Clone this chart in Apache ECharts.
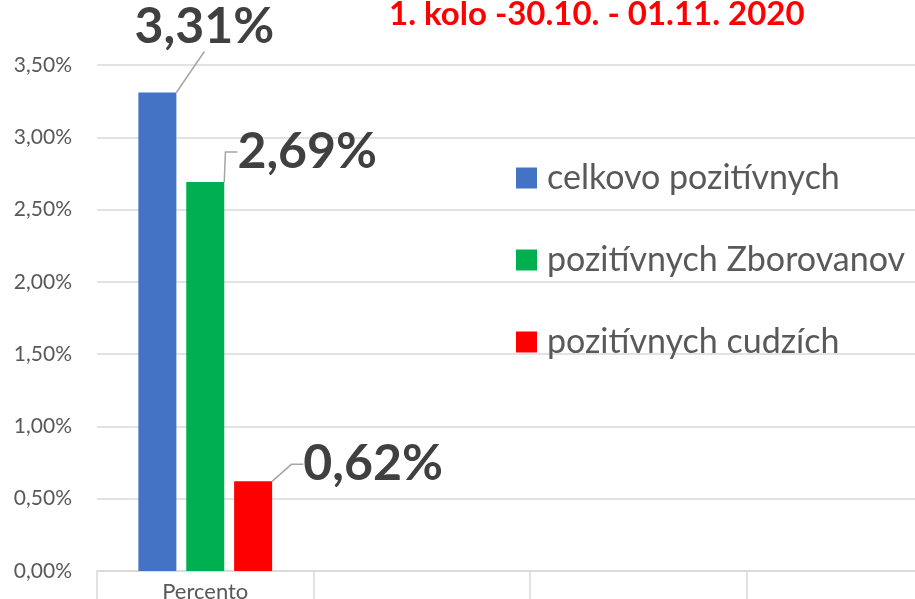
<!DOCTYPE html>
<html>
<head>
<meta charset="utf-8">
<script src="https://cdn.jsdelivr.net/npm/echarts@6/dist/echarts.min.js"></script>
<style>
  html, body { margin: 0; padding: 0; background: #fff; }
  #chart { width: 915px; height: 599px; }
</style>
</head>
<body>
<div id="chart"></div>
<script>
var categories = ['Percento', '', '', ''];
var seriesNames = ['celkovo pozitívnych', 'pozitívnych Zborovanov', 'pozitívnych cudzích'];
var seriesColors = ['#4472c4', '#00b050', '#ff0000'];
var celkovo = [3.31, null, null, null];
var zborovanov = [2.69, null, null, null];
var cudzich = [0.62, null, null, null];
var yTicks = [0, 0.5, 1, 1.5, 2, 2.5, 3, 3.5];

var chart = echarts.init(document.getElementById('chart'));
var font = 'Lato, "Open Sans", sans-serif';

function pct(v) {
  return v.toFixed(2).replace('.', ',') + '%';
}

// posuny stitkov oproti pozicii 'top'
var labelShift = [[47, -36], [102, 0], [120, 13]];
var lineLen2 = [0, 12, 12];

function makeSeries(i, data) {
  return {
    name: seriesNames[i],
    type: 'bar',
    data: data,
    barWidth: 38,
    barGap: '26%',
    itemStyle: { color: seriesColors[i] },
    label: {
      show: true,
      position: 'top',
      formatter: function (p) { return pct(p.value); },
      fontFamily: font,
      fontWeight: 'bold',
      fontSize: 50,
      color: '#404040'
    },
    labelLine: {
      show: true,
      length2: lineLen2[i],
      lineStyle: { color: '#a6a6a6', width: 1.5 }
    },
    labelLayout: { dx: labelShift[i][0], dy: labelShift[i][1] }
  };
}

var option = {
  animation: false,
  backgroundColor: '#fff',
  title: {
    text: '1. kolo -30.10. - 01.11. 2020',
    left: 389,
    top: -2,
    padding: 0,
    textStyle: { fontFamily: font, fontWeight: 'bold', fontSize: 33, color: '#ff0000' }
  },
  legend: {
    orient: 'vertical',
    left: 516,
    top: 161,
    padding: 0,
    itemWidth: 21,
    itemHeight: 21,
    itemGap: 48,
    icon: 'rect',
    textStyle: { fontFamily: font, fontSize: 34, color: '#595959', padding: [0, 0, 0, 5] },
    data: seriesNames
  },
  grid: { left: 97, width: 866, top: 65, bottom: 28, outerBoundsMode: 'none' },
  xAxis: {
    type: 'category',
    data: categories,
    axisLine: { lineStyle: { color: '#d9d9d9', width: 1.5 } },
    axisTick: { show: true, length: 30, lineStyle: { color: '#d9d9d9', width: 1.5 } },
    axisLabel: { fontFamily: font, fontSize: 22, color: '#595959', margin: 10 }
  },
  yAxis: {
    type: 'value',
    min: yTicks[0],
    max: yTicks[yTicks.length - 1],
    interval: 0.5,
    axisLine: { show: false },
    axisTick: { show: false },
    splitLine: { lineStyle: { color: '#d9d9d9', width: 1.5 } },
    axisLabel: {
      fontFamily: font, fontSize: 21, color: '#595959', margin: 25,
      formatter: function (v) { return pct(v); }
    }
  },
  series: [
    makeSeries(0, celkovo),
    makeSeries(1, zborovanov),
    makeSeries(2, cudzich)
  ]
};
chart.setOption(option);
</script>
</body>
</html>
